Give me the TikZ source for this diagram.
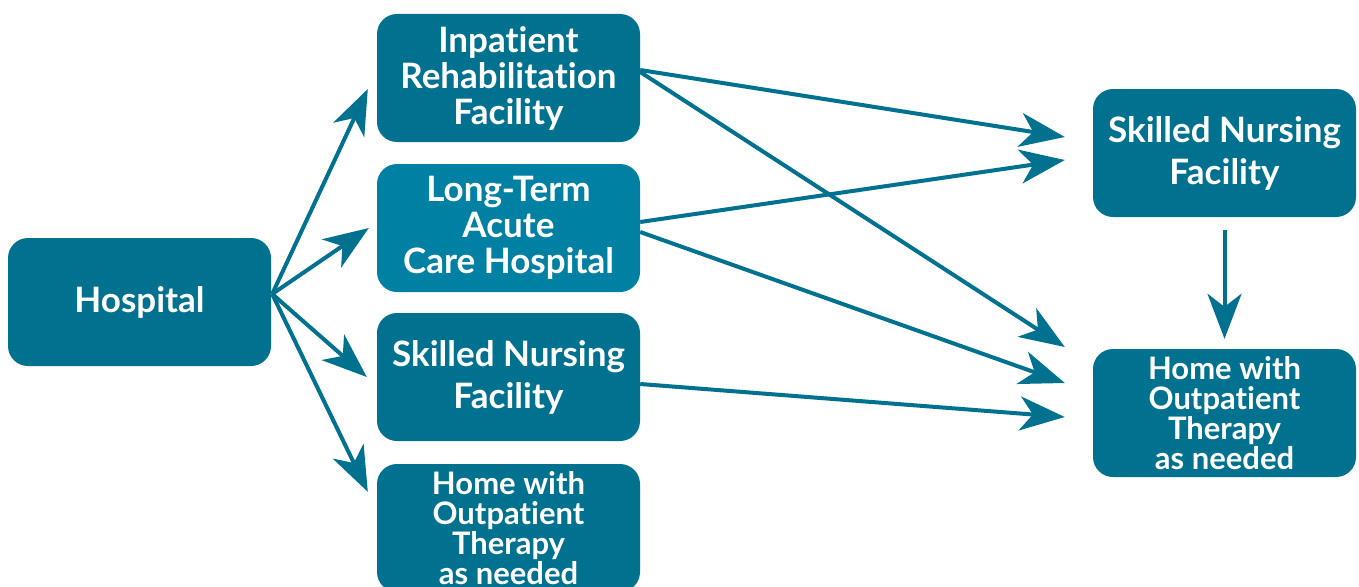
\documentclass[tikz,border=0pt]{standalone}
\usepackage{fontspec}
\setmainfont{Lato}[UprightFont=* Bold,Ligatures=NoCommon]
\usetikzlibrary{arrows.meta,calc}
\definecolor{boxc}{HTML}{00718F}
\definecolor{boxl}{HTML}{0080A2}
\begin{document}
\begin{tikzpicture}[x=1pt,y=-1pt,
  box/.style={fill=boxc,rounded corners=20pt,minimum width=263pt,minimum height=128pt,inner sep=0pt,
    text=white,align=center,font=\fontsize{35}{36}\selectfont},
  twobox/.style={box,font=\fontsize{35}{42}\selectfont},
  smallbox/.style={box,font=\fontsize{31}{30}\selectfont},
  arr/.style={draw=boxc,line width=4pt,-{Stealth[length=45pt,width=34pt,inset=13pt]}}]
\useasboundingbox (0,0) rectangle (1359,586);
\node[box] (hosp) at (139.5,302) {Hospital};
\node[box] (irf) at (508.5,78) {Inpatient\\Rehabilitation\\Facility};
\node[box,fill=boxl] (ltach) at (508.5,228) {Long-Term\\Acute\\Care Hospital};
\node[twobox] (snfl) at (508.5,377) {Skilled Nursing\\Facility};
\node[smallbox] (homel) at (508.5,528) {Home with\\Outpatient\\Therapy\\as needed};
\node[twobox] (snfr) at (1224.5,153) {Skilled Nursing\\Facility};
\node[smallbox] (homer) at (1224.5,413) {Home with\\Outpatient\\Therapy\\as needed};
\coordinate (h0) at ([shift={(1,-8)}]hosp.east);
\draw[arr] (h0) -- ([shift={(-9,11)}]irf.west);
\draw[arr] (h0) -- ([shift={(-8,0)}]ltach.west);
\draw[arr] (h0) -- ([shift={(-10,0)}]snfl.west);
\draw[arr] (h0) -- ([shift={(-9,28)}]homel.north west);
\draw[arr] ([shift={(0,-8)}]irf.east) -- ([shift={(-28,-16)}]snfr.west);
\draw[arr] ([shift={(0,-6)}]ltach.east) -- ([shift={(-28,7)}]snfr.west);
\draw[arr] ([shift={(0,-6)}]irf.east) -- ([shift={(-28,-66)}]homer.west);
\draw[arr] ([shift={(0,4)}]ltach.east) -- ([shift={(-28,-30)}]homer.west);
\draw[arr] ([shift={(0,7)}]snfl.east) -- ([shift={(-28,4)}]homer.west);
\draw[arr] ([shift={(0,13)}]snfr.south) -- ([shift={(0,-10)}]homer.north);
\end{tikzpicture}
\end{document}
